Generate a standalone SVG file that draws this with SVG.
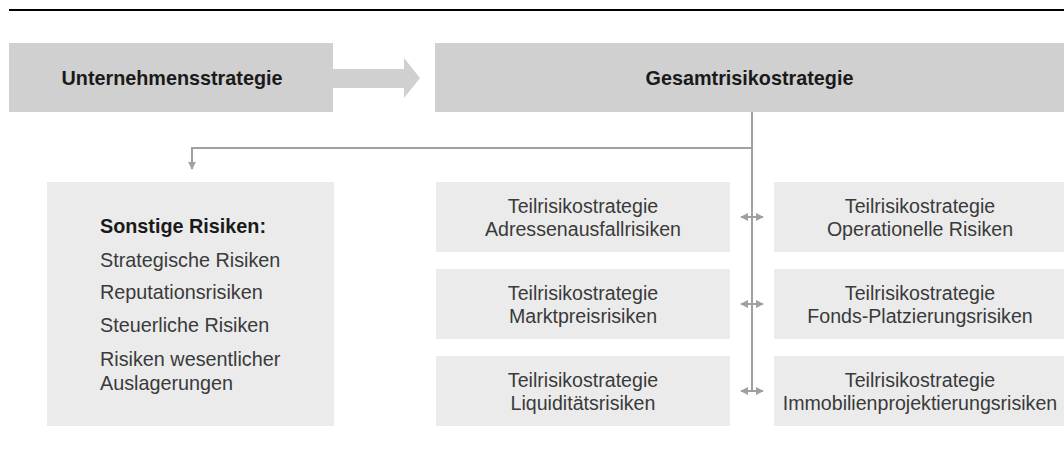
<svg xmlns="http://www.w3.org/2000/svg" width="1064" height="450" viewBox="0 0 1064 450">
  <defs>
    <style>
      .top { fill: #cfd0cf; }
      .sub { fill: #ebebeb; }
      .ttl { font-family: "Liberation Sans", Arial, sans-serif; font-size: 19.8px; font-weight: bold; fill: #1a1a1a; text-anchor: middle; }
      .txt { font-family: "Liberation Sans", Arial, sans-serif; font-size: 19.6px; fill: #3a3a3a; text-anchor: middle; }
      .lft { font-family: "Liberation Sans", Arial, sans-serif; font-size: 19.8px; fill: #3a3a3a; }
      .lftb { font-family: "Liberation Sans", Arial, sans-serif; font-size: 19.8px; font-weight: bold; fill: #1a1a1a; }
      .con { stroke: #a0a0a0; stroke-width: 2; fill: none; }
    </style>
    <marker id="ah" viewBox="0 0 10 10" refX="9" refY="5" markerWidth="4" markerHeight="4" orient="auto-start-reverse" markerUnits="strokeWidth">
      <path d="M0,0 L10,5 L0,10 z" fill="#a0a0a0"/>
    </marker>
  </defs>

  <rect x="9" y="9" width="1055" height="2" fill="#000000"/>

  <g id="unternehmensstrategie">
    <rect class="top" x="9" y="43" width="324" height="69"/>
    <text class="ttl" x="172" y="85">Unternehmensstrategie</text>
  </g>

  <g id="flow-arrow">
    <polygon class="top" points="333,69 404,69 404,58 420,78 404,98 404,88 333,88"/>
  </g>

  <g id="gesamtrisikostrategie">
    <rect class="top" x="435" y="43" width="629" height="69"/>
    <text class="ttl" x="749.5" y="85">Gesamtrisikostrategie</text>
  </g>

  <g id="connectors">
    <line class="con" x1="752" y1="112" x2="752" y2="391"/>
    <path class="con" d="M752,148 H192 V169" marker-end="url(#ah)"/>
    <line class="con" x1="741" y1="217" x2="763" y2="217" marker-start="url(#ah)" marker-end="url(#ah)"/>
    <line class="con" x1="741" y1="304" x2="763" y2="304" marker-start="url(#ah)" marker-end="url(#ah)"/>
    <line class="con" x1="741" y1="391" x2="763" y2="391" marker-start="url(#ah)" marker-end="url(#ah)"/>
  </g>

  <g id="sonstige-risiken">
    <rect class="sub" x="47" y="182" width="287" height="244"/>
    <text class="lftb" x="100" y="233">Sonstige Risiken:</text>
    <text class="lft" x="100" y="266.5">Strategische Risiken</text>
    <text class="lft" x="100" y="298.5">Reputationsrisiken</text>
    <text class="lft" x="100" y="331.5">Steuerliche Risiken</text>
    <text class="lft" x="100" y="366">Risiken wesentlicher</text>
    <text class="lft" x="100" y="390">Auslagerungen</text>
  </g>

  <g id="adressenausfallrisiken">
    <rect class="sub" x="436" y="182" width="294" height="70"/>
    <text class="txt" x="583" y="212.5">Teilrisikostrategie</text>
    <text class="txt" x="583" y="235.5">Adressenausfallrisiken</text>
  </g>

  <g id="marktpreisrisiken">
    <rect class="sub" x="436" y="269" width="294" height="70"/>
    <text class="txt" x="583" y="299.5">Teilrisikostrategie</text>
    <text class="txt" x="583" y="322.5">Marktpreisrisiken</text>
  </g>

  <g id="liquiditaetsrisiken">
    <rect class="sub" x="436" y="356" width="294" height="70"/>
    <text class="txt" x="583" y="386.5">Teilrisikostrategie</text>
    <text class="txt" x="583" y="409.5">Liquiditätsrisiken</text>
  </g>

  <g id="operationelle-risiken">
    <rect class="sub" x="774" y="182" width="290" height="70"/>
    <text class="txt" x="920" y="212.5">Teilrisikostrategie</text>
    <text class="txt" x="920" y="235.5">Operationelle Risiken</text>
  </g>

  <g id="fonds-platzierungsrisiken">
    <rect class="sub" x="774" y="269" width="290" height="70"/>
    <text class="txt" x="920" y="299.5">Teilrisikostrategie</text>
    <text class="txt" x="920" y="322.5">Fonds-Platzierungsrisiken</text>
  </g>

  <g id="immobilienprojektierungsrisiken">
    <rect class="sub" x="774" y="356" width="290" height="70"/>
    <text class="txt" x="920" y="386.5">Teilrisikostrategie</text>
    <text class="txt" x="920" y="409.5">Immobilienprojektierungsrisiken</text>
  </g>
</svg>
